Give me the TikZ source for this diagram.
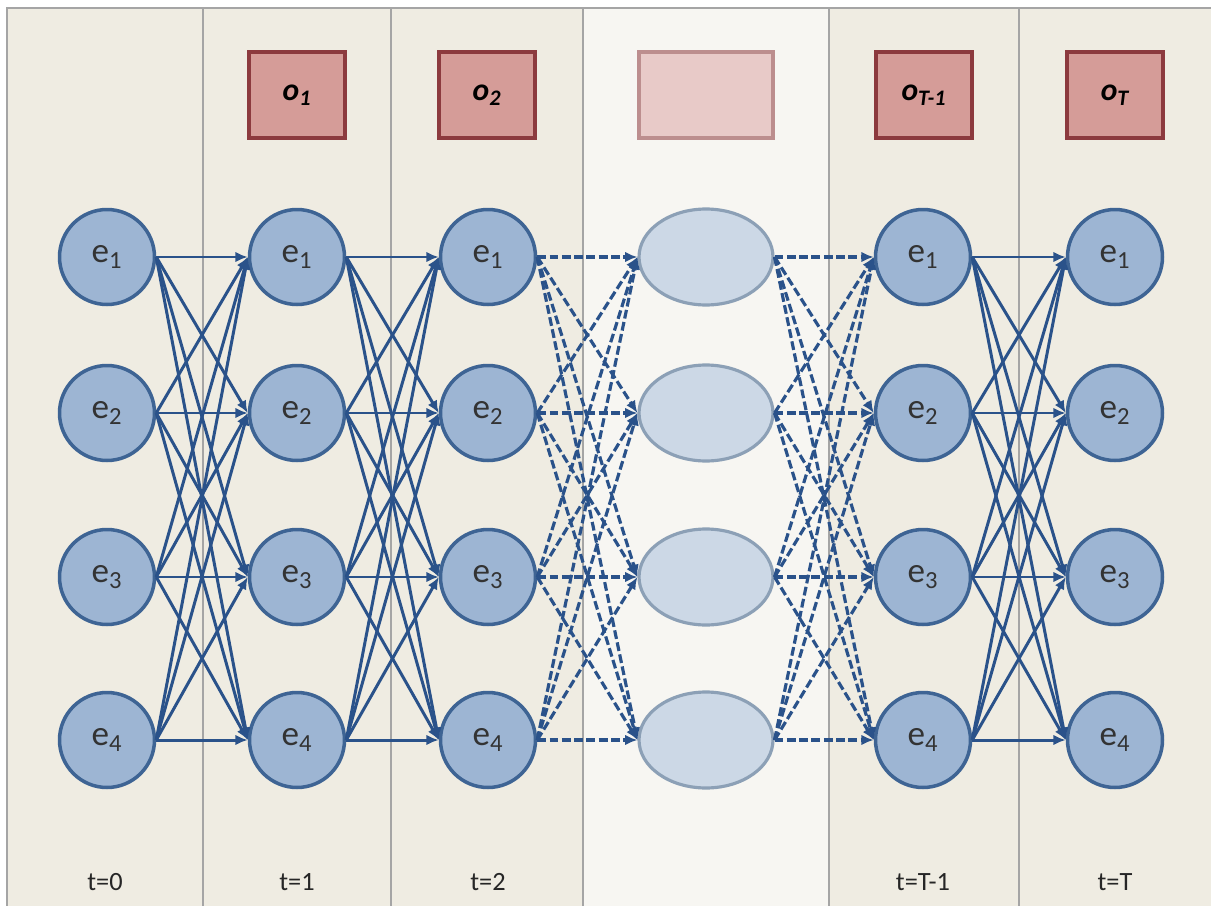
\documentclass[tikz,border=0pt]{standalone}
\usepackage{fontspec}
\setmainfont{Carlito}
\usetikzlibrary{arrows.meta,shapes.geometric}
\definecolor{bg}{RGB}{239,236,226}
\definecolor{bgmid}{RGB}{247,246,242}
\definecolor{sep}{RGB}{165,165,165}
\definecolor{efill}{RGB}{157,181,211}
\definecolor{eline}{RGB}{62,100,148}
\definecolor{link}{RGB}{42,82,138}
\definecolor{ofill}{RGB}{213,156,152}
\definecolor{oline}{RGB}{140,58,62}
\definecolor{gfill}{RGB}{204,216,230}
\definecolor{gline}{RGB}{140,160,182}
\definecolor{ogfill}{RGB}{232,202,200}
\definecolor{ogline}{RGB}{188,142,142}

\tikzset{
  state/.style={circle,draw=eline,fill=efill,line width=2pt,minimum size=1.9cm,inner sep=0pt,
    font=\fontsize{20}{22}\selectfont,text=black!80},
  ghost/.style={ellipse,draw=gline,fill=gfill,line width=1.8pt,minimum width=2.68cm,minimum height=1.92cm},
  obs/.style={rectangle,draw=oline,fill=ofill,line width=2pt,minimum width=1.92cm,minimum height=1.72cm,
    font=\fontsize{18}{20}\selectfont\bfseries\itshape},
  obsghost/.style={rectangle,draw=ogline,fill=ogfill,line width=1.8pt,minimum width=2.68cm,minimum height=1.72cm},
  tlabel/.style={font=\fontsize{15}{17}\selectfont,text=black!85},
  arc/.style={draw=link,line width=1.7pt,-{Latex[length=7pt,width=6pt]}},
  darc/.style={arc,line width=1.8pt,dash pattern=on 5pt off 2pt}
}

\begin{document}
\begin{tikzpicture}[x=0.02cm,y=-0.02cm]
  \useasboundingbox (0,0) rectangle (1211,906);
  % time slices
  \fill[bg] (7,8) rectangle (1211,906);
  \fill[bgmid] (583,8) rectangle (829,906);
  \draw[sep,line width=1.6pt] (7,906) -- (7,8) -- (1211,8);
  \foreach \x in {203,391,583,829,1019}
    \draw[sep,line width=1.6pt] (\x,8) -- (\x,906);

  % hidden states
  \foreach \c/\x in {0/107,1/297,2/488,8/923,9/1115}
    \foreach \r/\y in {1/257,2/413,3/577,4/740}
      \node[state] (e\c\r) at (\x,\y) {e\textsubscript{\r}};
  \foreach \r/\y in {1/257,2/413,3/577,4/740}
    \node[ghost] (m\r) at (706,\y) {};

  % observations
  \node[obs] (o1) at (297,95) {o\textsubscript{1}};
  \node[obs] (o2) at (487,95) {o\textsubscript{2}};
  \node[obsghost] (om) at (706,95) {};
  \node[obs] (o8) at (924,95) {o\textsubscript{T-1}};
  \node[obs] (o9) at (1115,95) {o\textsubscript{T}};

  % transitions
  \foreach \a/\b in {0/1,1/2,8/9}
    \foreach \i in {1,...,4}
      \foreach \j in {1,...,4}
        \draw[arc] (e\a\i.east) -- (e\b\j.west);
  \foreach \i in {1,...,4}
    \foreach \j in {1,...,4} {
      \draw[darc] (e2\i.east) -- (m\j.west);
      \draw[darc] (m\i.east) -- (e8\j.west);
    }

  % time labels
  \node[tlabel] (t0) at (105,882) {t=0};
  \node[tlabel] (t1) at (297,882) {t=1};
  \node[tlabel] (t2) at (488,882) {t=2};
  \node[tlabel] (t8) at (923,882) {t=T-1};
  \node[tlabel] (t9) at (1115,882) {t=T};
\end{tikzpicture}
\end{document}
